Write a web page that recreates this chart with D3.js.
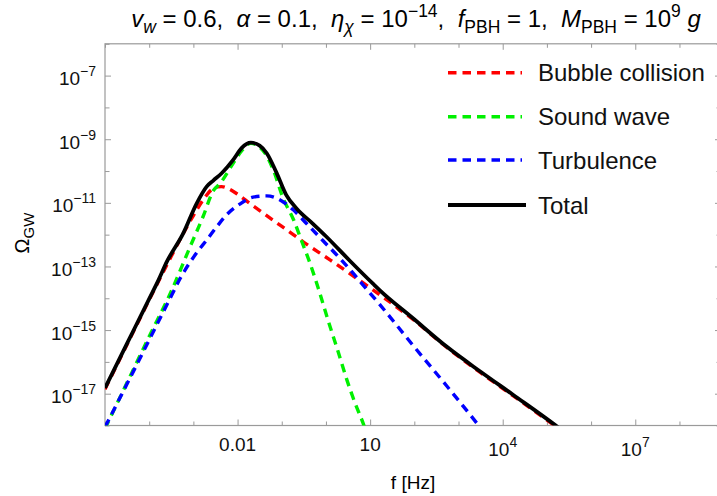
<!DOCTYPE html>
<html>
<head>
<meta charset="utf-8">
<script src="https://cdn.jsdelivr.net/npm/d3@7"></script>
<style>
    body { margin: 0; background: #fff; }
    svg { display: block; font-family: 'Liberation Sans', Arial, sans-serif; }
</style>
</head>
<body>
<div class="visHolder"></div>
<script>
// points as [log10 f, log10 Omega]
const bubbleCollision = [
    [-5, -16.86], [-4.5, -15.45], [-4, -14.05], [-3.5, -12.68], [-3, -11.4],
    [-2.75, -10.85], [-2.6, -10.6], [-2.45, -10.5], [-2.36, -10.49], [-2.2, -10.56],
    [-2, -10.73], [-1.72, -11.02], [-1.4, -11.34], [-1.12, -11.62], [-0.81, -11.93],
    [-0.5, -12.24], [0.1, -12.8], [0.7, -13.38], [1.3, -13.97], [2, -14.7],
    [2.73, -15.54], [3.5, -16.34], [4.24, -17.07], [5.18, -18.01], [5.5, -18.33]
]
const soundWave = [
    [-5, -18.1], [-4.5, -16.65], [-4, -15.2], [-3.5, -13.78], [-3.08, -12.4],
    [-2.78, -11.43], [-2.55, -10.62], [-2.4, -10.4], [-2.1, -9.76], [-1.9, -9.35],
    [-1.7, -9.13], [-1.5, -9.25], [-1.33, -9.55], [-1.19, -9.97], [-0.97, -10.85],
    [-0.73, -11.54], [-0.55, -12.2], [-0.36, -12.9], [-0.17, -13.7], [0.05, -14.7],
    [0.28, -15.7], [0.47, -16.55], [0.66, -17.3], [0.86, -18], [1, -18.6]
]
const turbulence = [
    [-5, -18.05], [-4.5, -16.69], [-4, -15.31], [-3.5, -13.93], [-3.3, -13.38],
    [-2.93, -12.58], [-2.7, -12.17], [-2.47, -11.75], [-2.25, -11.38], [-1.95, -11.04],
    [-1.65, -10.82], [-1.34, -10.78], [-1, -10.94], [-0.74, -11.22], [-0.44, -11.65],
    [-0.06, -12.2], [0.32, -12.75], [0.62, -13.22], [0.9, -13.68], [1.22, -14.2],
    [1.94, -15.43], [2.73, -16.75], [3.4, -17.9], [3.6, -18.25]
]
const total = [
    [-5, -16.82], [-4.5, -15.42], [-4, -14.02], [-3.79, -13.43], [-3.6, -12.85],
    [-3.23, -11.96], [-2.93, -11.03], [-2.7, -10.49], [-2.55, -10.3], [-2.36, -10.07],
    [-2.1, -9.65], [-1.91, -9.28], [-1.7, -9.11], [-1.5, -9.2], [-1.34, -9.44],
    [-1.12, -10.05], [-0.9, -10.75], [-0.65, -11.2], [-0.3, -11.65], [0, -12.05],
    [0.54, -12.82], [1.07, -13.55], [1.22, -13.75], [1.97, -14.63], [2.73, -15.52],
    [3.5, -16.31], [4.24, -17.04], [5.18, -17.98], [5.5, -18.32]
]

const seriesNames = ['Bubble collision', 'Sound wave', 'Turbulence', 'Total']
const xTickExps = d3.range(-5, 9)
const xTickLabels = { '-2': '0.01', '1': '10', '4': ['10', '4'], '7': ['10', '7'] }
const yTickExps = d3.range(-18, -5)
const yLabelExps = [-17, -15, -13, -11, -9, -7]

function richText(sel, parts) {
    let shift = 0
    parts.forEach(p => {
        const target = p.shift || 0
        const ts = sel.append('tspan')
            .text(p.t)
            .attr('dy', target - shift)
        shift = target
        if (p.size) ts.attr('font-size', p.size)
        if (p.italic) ts.attr('font-style', 'italic')
    })
}

function init() {
    const width = 717
    const height = 496
    const left = 105
    const right = 721
    const top = 43.8
    const bottom = 425.5
    const frameColor = '#9a9a9a'

    const svg = d3.select('.visHolder')
        .append('svg')
        .attr('width', width)
        .attr('height', height)

    const xScale = d3.scaleLog()
        .domain([1e-5, Math.pow(10, 8.94)])
        .range([left, right])
    const yScale = d3.scaleLog()
        .domain([1e-18, 1e-6])
        .range([bottom, top])

    // ticks, all pointing inward
    const xBottom = d3.axisBottom(xScale)
        .tickValues(xTickExps.map(e => Math.pow(10, e)))
        .tickSize(-4)
        .tickFormat(() => '')
    const xTop = d3.axisTop(xScale)
        .tickValues(xTickExps.map(e => Math.pow(10, e)))
        .tickSize(-4)
        .tickFormat(() => '')
    const yLeft = d3.axisLeft(yScale)
        .tickValues(yTickExps.map(e => Math.pow(10, e)))
        .tickSize(-4.5)
        .tickFormat(() => '')
    const yRight = d3.axisRight(yScale)
        .tickValues(yTickExps.map(e => Math.pow(10, e)))
        .tickSize(-4.5)
        .tickFormat(() => '')

    const isXLabel = d => xTickLabels[Math.round(Math.log10(d))] !== undefined
    const isYLabel = d => yLabelExps.includes(Math.round(Math.log10(d)))

    const gx = svg.append('g').attr('transform', `translate(0, ${bottom})`).call(xBottom)
    gx.selectAll('.tick line').attr('y2', d => isXLabel(d) ? -6 : -4)
    const gxt = svg.append('g').attr('transform', `translate(0, ${top})`).call(xTop)
    gxt.selectAll('.tick line').attr('y2', d => isXLabel(d) ? 6 : 4)
    const gy = svg.append('g').attr('transform', `translate(${left}, 0)`).call(yLeft)
    gy.selectAll('.tick line').attr('x2', d => isYLabel(d) ? 6 : 4.5)
    const gyr = svg.append('g').attr('transform', `translate(${right}, 0)`).call(yRight)
    gyr.selectAll('.tick line').attr('x2', d => isYLabel(d) ? -6 : -4.5)

    svg.selectAll('.domain').remove()
    svg.selectAll('.tick line').attr('stroke', frameColor)

    svg.append('rect')
        .attr('x', left)
        .attr('y', top)
        .attr('width', right - left)
        .attr('height', bottom - top)
        .attr('fill', 'none')
        .attr('stroke', frameColor)
        .attr('stroke-width', 1.2)

    // x tick labels
    Object.keys(xTickLabels).forEach(k => {
        const lab = xTickLabels[k]
        const t = svg.append('text')
            .attr('x', xScale(Math.pow(10, +k)))
            .attr('y', Array.isArray(lab) ? 456 : 451)
            .attr('text-anchor', 'middle')
            .attr('font-size', '19px')
            .attr('fill', '#111')
        if (Array.isArray(lab)) {
            richText(t, [{ t: lab[0] }, { t: lab[1], shift: -9, size: '14px' }])
        } else {
            t.text(lab)
        }
    })

    // y tick labels
    yLabelExps.forEach(e => {
        const t = svg.append('text')
            .attr('x', 96)
            .attr('y', yScale(Math.pow(10, e)) + 9.5)
            .attr('text-anchor', 'end')
            .attr('font-size', '19px')
            .attr('fill', '#111')
        richText(t, [{ t: '10' }, { t: '\u2212' + Math.abs(e), shift: -9, size: '14px' }])
    })

    // title
    const title = svg.append('text')
        .attr('x', (left + right) / 2 + 3)
        .attr('y', 27)
        .attr('text-anchor', 'middle')
        .attr('font-size', '24px')
        .style('white-space', 'pre')
    const sub = 5.5
    const sup = -10
    const small = '17.5px'
    richText(title, [
        { t: 'v', italic: true }, { t: 'w', italic: true, shift: sub, size: small },
        { t: ' = 0.6,  ' }, { t: '\u03b1', italic: true }, { t: ' = 0.1,  ' },
        { t: '\u03b7', italic: true }, { t: '\u03c7', italic: true, shift: sub, size: small },
        { t: ' = 10' }, { t: '\u221214', shift: sup, size: small }, { t: ',  ' },
        { t: 'f', italic: true }, { t: 'PBH', shift: sub, size: small }, { t: ' = 1,  ' },
        { t: 'M', italic: true }, { t: 'PBH', shift: sub, size: small }, { t: ' = 10' },
        { t: '9', shift: sup, size: small }, { t: ' ' }, { t: 'g', italic: true }
    ])

    // axis labels
    svg.append('text')
        .attr('x', (left + right) / 2)
        .attr('y', 489)
        .attr('text-anchor', 'middle')
        .attr('font-size', '19px')
        .text('f [Hz]')

    const yLab = svg.append('text')
        .attr('transform', 'translate(29, 233) rotate(-90)')
        .attr('text-anchor', 'middle')
        .attr('font-size', '20px')
    richText(yLab, [{ t: '\u03a9' }, { t: 'GW', shift: 4.5, size: '15px' }])

    // curves
    svg.append('clipPath')
        .attr('id', 'plot-clip')
        .append('rect')
        .attr('x', left)
        .attr('y', top)
        .attr('width', right - left)
        .attr('height', bottom - top)

    const line = d3.line()
        .x(d => xScale(Math.pow(10, d[0])))
        .y(d => yScale(Math.pow(10, d[1])))
        .curve(d3.curveMonotoneX)

    const series = [
        { name: seriesNames[0], data: bubbleCollision, color: '#ff0000', dash: '8.5,6', w: 3.4 },
        { name: seriesNames[1], data: soundWave, color: '#00f000', dash: '8.5,6', w: 3.4 },
        { name: seriesNames[2], data: turbulence, color: '#0000ff', dash: '8.5,6', w: 3.4 },
        { name: seriesNames[3], data: total, color: '#000000', dash: null, w: 3.8 }
    ]

    svg.append('g')
        .attr('clip-path', 'url(#plot-clip)')
        .selectAll('path')
        .data(series)
        .enter()
        .append('path')
        .attr('d', d => line(d.data))
        .attr('fill', 'none')
        .attr('stroke', d => d.color)
        .attr('stroke-width', d => d.w)
        .attr('stroke-dasharray', d => d.dash)

    // legend
    const legend = svg.append('g')
        .selectAll('g')
        .data(series)
        .enter()
        .append('g')
        .attr('transform', (d, i) => `translate(0, ${[72.7, 116.7, 160, 205][i]})`)

    legend.append('line')
        .attr('x1', 448)
        .attr('x2', d => d.dash ? 522 : 526)
        .attr('stroke', d => d.color)
        .attr('stroke-width', d => d.w)
        .attr('stroke-dasharray', d => d.dash)

    legend.append('text')
        .attr('x', 538)
        .attr('y', 8.5)
        .attr('font-size', '24px')
        .attr('fill', '#111')
        .text(d => d.name)
}

init()
</script>
</body>
</html>
